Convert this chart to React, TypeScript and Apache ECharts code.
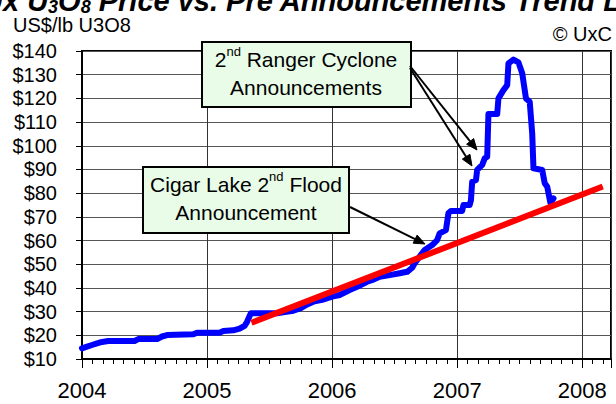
import React, { useEffect, useRef } from 'react';
import * as echarts from 'echarts';

const FONT = '"Liberation Sans", Arial, Helvetica, sans-serif';

// X axis (years) and Y axis (US$/lb) ticks
const yearTicks = [2004, 2005, 2006, 2007, 2008];
const priceMin = 10;
const priceMax = 140;
const priceStep = 10;

// Ux U3O8 spot price (decimal year, US$/lb)
const spotDates = [
  2004.0, 2004.04, 2004.08, 2004.12, 2004.16, 2004.21, 2004.42, 2004.45, 2004.6, 2004.64,
  2004.68, 2004.89, 2004.92, 2005.1, 2005.13, 2005.21, 2005.26, 2005.3, 2005.32, 2005.35,
  2005.56, 2005.62, 2005.69, 2005.75, 2005.8, 2005.85, 2005.92, 2006.0, 2006.06, 2006.14,
  2006.2, 2006.28, 2006.33, 2006.38, 2006.46, 2006.54, 2006.6, 2006.64, 2006.66, 2006.7,
  2006.74, 2006.8, 2006.84, 2006.86, 2006.91, 2006.93, 2006.95, 2007.04, 2007.05, 2007.1,
  2007.11, 2007.12, 2007.15, 2007.16, 2007.2, 2007.22, 2007.24, 2007.25, 2007.32, 2007.33,
  2007.37, 2007.4, 2007.41, 2007.45, 2007.49, 2007.52, 2007.55, 2007.58, 2007.6, 2007.61,
  2007.68, 2007.7, 2007.72, 2007.745, 2007.77,
];
const spotPrices = [
  14.5, 15.2, 15.9, 16.6, 17.2, 17.6, 17.6, 18.4, 18.4, 19.5,
  20.1, 20.4, 21.1, 21.1, 21.8, 22.1, 22.8, 24.0, 25.7, 29.3,
  29.3, 29.8, 30.4, 31.5, 33.0, 34.2, 35.0, 36.3, 37.0, 39.1,
  40.5, 42.6, 43.5, 44.7, 45.4, 46.2, 46.8, 48.5, 50.4, 53.2,
  56.0, 58.1, 60.2, 63.0, 64.4, 71.5, 72.5, 72.5, 75.0, 75.0,
  77.0, 84.8, 85.5, 89.8, 91.9, 94.7, 95.4, 113.4, 113.4, 120.0,
  123.5, 125.6, 134.8, 136.4, 135.2, 130.6, 120.0, 118.6, 105.2, 90.5,
  89.8, 84.2, 82.7, 76.0, 77.8,
];

// Pre-announcements trend line
const trendDates = [2005.355, 2008.164];
const trendValues = [25.3, 82.8];

function arrow(x1: number, y1: number, x2: number, y2: number) {
  const dx = x2 - x1;
  const dy = y2 - y1;
  const len = Math.hypot(dx, dy);
  const ux = dx / len;
  const uy = dy / len;
  const L = 11;
  const W = 4.5;
  const bx = x2 - ux * L;
  const by = y2 - uy * L;
  return [
    { type: 'line', z: 100, shape: { x1, y1, x2: bx, y2: by }, style: { stroke: '#000', lineWidth: 2 } },
    {
      type: 'polygon', z: 100,
      shape: { points: [[x2, y2], [bx - uy * W, by + ux * W], [bx + uy * W, by - ux * W]] },
      style: { fill: '#000', stroke: '#000', lineWidth: 1 },
    },
  ];
}

const boxRich = {
  n: { fontSize: 21, lineHeight: 28, fontFamily: FONT, fill: '#000', color: '#000' },
  s: { fontSize: 13, lineHeight: 15, verticalAlign: 'top', fontFamily: FONT, fill: '#000', color: '#000' },
};

export default function App() {
  const ref = useRef<HTMLDivElement>(null);
  useEffect(() => {
    if (!ref.current) return;
    const chart = echarts.init(ref.current, null, { renderer: 'svg' });
    const spot = spotDates.map((d, i) => [d, spotPrices[i]]);
    const trend = trendDates.map((d, i) => [d, trendValues[i]]);
    const option: any = {
      animation: false,
      textStyle: { fontFamily: FONT },
      grid: { left: 82, right: 5, top: 51, bottom: 45, show: true, borderColor: '#000', borderWidth: 2, backgroundColor: 'transparent' },
      xAxis: [
        {
          type: 'value', min: yearTicks[0], max: 2008.23, interval: 1, position: 'bottom',
          axisLine: { show: true, onZero: false, lineStyle: { color: '#000', width: 2 } },
          axisTick: { show: true, length: 9, lineStyle: { color: '#000', width: 1 } },
          axisLabel: {
            formatter: (v: number) => (yearTicks.includes(v) ? String(v) : ''),
            fontSize: 22, color: '#000', margin: 31, verticalAlign: 'middle', fontFamily: FONT,
            showMaxLabel: true,
          },
          splitLine: { show: true, lineStyle: { color: '#333', width: 1 } },
        },
        {
          type: 'value', min: 0, max: 50.76, interval: 1, position: 'bottom',
          axisLine: { show: false },
          axisTick: { show: true, length: 5, lineStyle: { color: '#000', width: 1 } },
          axisLabel: { show: false },
          splitLine: { show: false },
        },
      ],
      yAxis: {
        type: 'value', min: priceMin, max: priceMax, interval: priceStep,
        axisLine: { show: true, lineStyle: { color: '#000', width: 2 } },
        axisTick: { show: true, length: 6, lineStyle: { color: '#000', width: 1 } },
        axisLabel: { formatter: (v: number) => '$' + v, fontSize: 20, color: '#000', margin: 25, fontFamily: FONT },
        splitLine: { show: true, lineStyle: { color: '#555', width: 1 } },
      },
      series: [
        {
          type: 'line', data: spot, symbol: 'none', showSymbol: false, z: 3,
          lineStyle: { color: '#0000ff', width: 6, cap: 'round', join: 'round' },
        },
        {
          type: 'line', data: trend, symbol: 'none', showSymbol: false, z: 4,
          lineStyle: { color: '#ff0000', width: 6 },
        },
      ],
      graphic: [
        {
          type: 'text', x: -18, y: 1, z: 100,
          style: {
            text: '{t|Ux U}{s|3}{t|O}{s|8}{t| Price vs. Pre Announcements Trend Line}',
            align: 'left', verticalAlign: 'middle',
            rich: {
              t: { fontSize: 29, lineHeight: 29, fontWeight: 'bold', fontStyle: 'italic', fontFamily: FONT, fill: '#000' },
              s: { fontSize: 18, lineHeight: 18, verticalAlign: 'bottom', fontWeight: 'bold', fontStyle: 'italic', fontFamily: FONT, fill: '#000' },
            },
          },
        },
        {
          type: 'text', x: 13, y: 25, z: 100,
          style: { text: 'US$/lb U3O8', fontSize: 20, fontFamily: FONT, fill: '#000', align: 'left', verticalAlign: 'middle' },
        },
        {
          type: 'text', x: 612, y: 34, z: 100,
          style: { text: '© UxC', fontSize: 20, fontFamily: FONT, fill: '#000', align: 'right', verticalAlign: 'middle' },
        },
        ...arrow(350, 207, 425, 244),
        ...arrow(410, 66, 477, 150),
        ...arrow(410, 68, 472, 166),
        {
          type: 'rect', z: 90, shape: { x: 202, y: 42, width: 209, height: 65 },
          style: { fill: '#E8FCE8', stroke: '#000', lineWidth: 2 },
        },
        {
          type: 'text', x: 306, y: 73, z: 101,
          style: {
            text: '{n|2}{s|nd}{n| Ranger Cyclone}\n{n|Announcements}',
            align: 'center', verticalAlign: 'middle', rich: boxRich,
          },
        },
        {
          type: 'rect', z: 90, shape: { x: 143, y: 167, width: 206, height: 66 },
          style: { fill: '#E8FCE8', stroke: '#000', lineWidth: 2 },
        },
        {
          type: 'text', x: 246, y: 198, z: 101,
          style: {
            text: '{n|Cigar Lake 2}{s|nd}{n| Flood}\n{n|Announcement}',
            align: 'center', verticalAlign: 'middle', rich: boxRich,
          },
        },
      ],
    };
    chart.setOption(option);
    return () => chart.dispose();
  }, []);
  return <div ref={ref} style={{ position: 'absolute', left: 0, top: 0, width: 616, height: 404 }} />;
}
